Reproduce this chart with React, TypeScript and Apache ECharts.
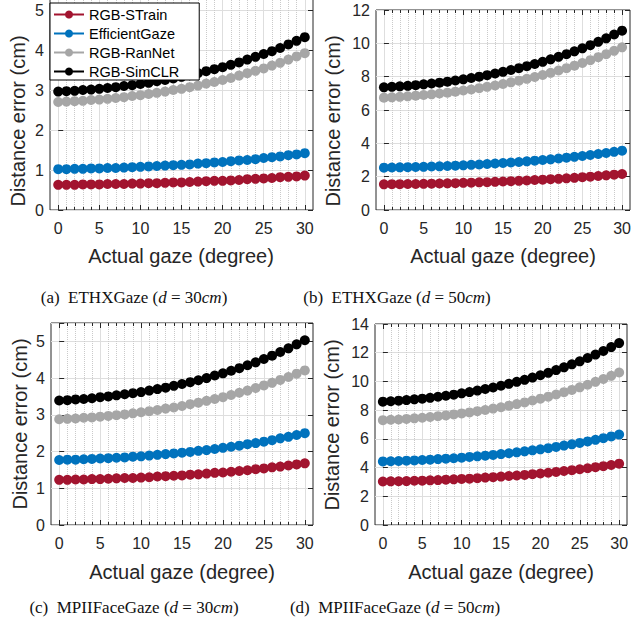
import React, { useEffect, useRef } from "react";
import * as echarts from "echarts";

// ---------- data ----------
const GAZE_DEG = [0, 1, 2, 3, 4, 5, 6, 7, 8, 9, 10, 11, 12, 13, 14, 15, 16, 17, 18, 19, 20, 21, 22, 23, 24, 25, 26, 27, 28, 29, 30];
const SERIES_NAMES = ["RGB-STrain", "EfficientGaze", "RGB-RanNet", "RGB-SimCLR"];
const SERIES_COLORS = ["#A2142F", "#0072BD", "#A6A6A6", "#000000"];

// (a) ETHXGaze d = 30cm
const ETH30_STRAIN = [0.63, 0.63, 0.63, 0.64, 0.64, 0.64, 0.65, 0.65, 0.65, 0.66, 0.66, 0.67, 0.67, 0.68, 0.69, 0.69, 0.70, 0.71, 0.72, 0.73, 0.73, 0.74, 0.75, 0.77, 0.78, 0.79, 0.80, 0.82, 0.83, 0.84, 0.86];
const ETH30_EFFICIENT = [1.02, 1.02, 1.03, 1.03, 1.04, 1.04, 1.05, 1.05, 1.06, 1.07, 1.08, 1.09, 1.10, 1.11, 1.12, 1.13, 1.14, 1.16, 1.17, 1.19, 1.20, 1.22, 1.24, 1.25, 1.27, 1.30, 1.32, 1.34, 1.37, 1.39, 1.42];
const ETH30_RANNET = [2.70, 2.71, 2.72, 2.73, 2.75, 2.76, 2.78, 2.80, 2.82, 2.85, 2.87, 2.90, 2.93, 2.96, 3.00, 3.03, 3.07, 3.11, 3.16, 3.20, 3.25, 3.30, 3.36, 3.42, 3.48, 3.54, 3.61, 3.68, 3.76, 3.84, 3.92];
const ETH30_SIMCLR = [2.96, 2.97, 2.98, 3.00, 3.01, 3.03, 3.05, 3.07, 3.10, 3.12, 3.15, 3.18, 3.22, 3.25, 3.29, 3.33, 3.37, 3.42, 3.47, 3.52, 3.57, 3.63, 3.69, 3.76, 3.83, 3.90, 3.97, 4.05, 4.14, 4.23, 4.32];

// (b) ETHXGaze d = 50cm
const ETH50_STRAIN = [1.54, 1.55, 1.55, 1.56, 1.56, 1.57, 1.58, 1.59, 1.60, 1.61, 1.63, 1.64, 1.66, 1.67, 1.69, 1.71, 1.73, 1.75, 1.77, 1.80, 1.82, 1.85, 1.87, 1.90, 1.93, 1.97, 2.00, 2.04, 2.08, 2.12, 2.16];
const ETH50_EFFICIENT = [2.54, 2.55, 2.56, 2.57, 2.58, 2.59, 2.61, 2.62, 2.64, 2.66, 2.68, 2.71, 2.73, 2.76, 2.79, 2.82, 2.85, 2.88, 2.92, 2.96, 3.00, 3.04, 3.09, 3.14, 3.19, 3.24, 3.30, 3.36, 3.42, 3.49, 3.56];
const ETH50_RANNET = [6.74, 6.76, 6.79, 6.82, 6.86, 6.90, 6.94, 6.99, 7.04, 7.10, 7.17, 7.23, 7.31, 7.39, 7.47, 7.56, 7.66, 7.76, 7.87, 7.98, 8.10, 8.23, 8.37, 8.51, 8.66, 8.82, 8.99, 9.17, 9.35, 9.55, 9.76];
const ETH50_SIMCLR = [7.36, 7.39, 7.42, 7.45, 7.49, 7.54, 7.59, 7.64, 7.70, 7.77, 7.84, 7.92, 8.00, 8.09, 8.19, 8.29, 8.40, 8.51, 8.63, 8.76, 8.89, 9.04, 9.19, 9.35, 9.52, 9.70, 9.89, 10.09, 10.30, 10.53, 10.76];

// (c) MPIIFaceGaze d = 30cm
const MPII30_STRAIN = [1.23, 1.23, 1.24, 1.24, 1.25, 1.25, 1.26, 1.27, 1.28, 1.28, 1.29, 1.30, 1.32, 1.33, 1.34, 1.35, 1.37, 1.38, 1.40, 1.42, 1.43, 1.45, 1.47, 1.49, 1.52, 1.54, 1.57, 1.59, 1.62, 1.65, 1.68];
const MPII30_EFFICIENT = [1.77, 1.78, 1.78, 1.79, 1.80, 1.81, 1.82, 1.83, 1.84, 1.86, 1.87, 1.89, 1.91, 1.93, 1.95, 1.97, 1.99, 2.02, 2.04, 2.07, 2.10, 2.13, 2.16, 2.20, 2.23, 2.27, 2.31, 2.36, 2.40, 2.45, 2.50];
const MPII30_RANNET = [2.88, 2.89, 2.90, 2.92, 2.93, 2.95, 2.97, 2.99, 3.01, 3.04, 3.07, 3.10, 3.13, 3.17, 3.20, 3.24, 3.29, 3.33, 3.38, 3.43, 3.48, 3.54, 3.60, 3.66, 3.73, 3.80, 3.87, 3.95, 4.03, 4.12, 4.21];
const MPII30_SIMCLR = [3.39, 3.40, 3.42, 3.43, 3.45, 3.48, 3.50, 3.53, 3.56, 3.59, 3.62, 3.66, 3.70, 3.74, 3.79, 3.84, 3.89, 3.94, 4.00, 4.07, 4.13, 4.20, 4.27, 4.35, 4.43, 4.52, 4.61, 4.71, 4.81, 4.92, 5.03];

// (d) MPIIFaceGaze d = 50cm
const MPII50_STRAIN = [3.03, 3.04, 3.05, 3.06, 3.08, 3.09, 3.11, 3.13, 3.16, 3.18, 3.21, 3.23, 3.26, 3.30, 3.33, 3.37, 3.41, 3.45, 3.49, 3.54, 3.59, 3.64, 3.70, 3.76, 3.82, 3.88, 3.95, 4.03, 4.10, 4.18, 4.27];
const MPII50_EFFICIENT = [4.43, 4.44, 4.46, 4.48, 4.50, 4.53, 4.55, 4.59, 4.62, 4.65, 4.69, 4.74, 4.78, 4.83, 4.88, 4.94, 5.00, 5.06, 5.13, 5.20, 5.27, 5.35, 5.44, 5.53, 5.62, 5.72, 5.82, 5.93, 6.05, 6.17, 6.30];
const MPII50_RANNET = [7.30, 7.33, 7.35, 7.39, 7.43, 7.47, 7.52, 7.58, 7.63, 7.70, 7.77, 7.84, 7.93, 8.01, 8.11, 8.20, 8.31, 8.42, 8.54, 8.67, 8.80, 8.94, 9.09, 9.25, 9.41, 9.59, 9.77, 9.97, 10.17, 10.39, 10.62];
const MPII50_SIMCLR = [8.59, 8.62, 8.66, 8.70, 8.75, 8.80, 8.86, 8.93, 9.00, 9.08, 9.17, 9.26, 9.36, 9.47, 9.58, 9.70, 9.83, 9.97, 10.11, 10.27, 10.43, 10.60, 10.79, 10.98, 11.19, 11.40, 11.63, 11.87, 12.12, 12.39, 12.67];

const PANEL_DATA = [
  [ETH30_STRAIN, ETH30_EFFICIENT, ETH30_RANNET, ETH30_SIMCLR],
  [ETH50_STRAIN, ETH50_EFFICIENT, ETH50_RANNET, ETH50_SIMCLR],
  [MPII30_STRAIN, MPII30_EFFICIENT, MPII30_RANNET, MPII30_SIMCLR],
  [MPII50_STRAIN, MPII50_EFFICIENT, MPII50_RANNET, MPII50_SIMCLR],
];

const X_TICK_MIN = 0;
const X_TICK_MAX = 30;
const X_TICK_STEP = 5;
const Y_MAX = [5.3, 12, 5.5, 14];
const Y_TICK_STEP = [1, 2, 1, 2];

const CAPTION_TAGS = ["(a)", "(b)", "(c)", "(d)"];
const CAPTION_SETS = ["ETHXGaze", "ETHXGaze", "MPIIFaceGaze", "MPIIFaceGaze"];
const CAPTION_DIST = ["30", "50", "30", "50"];
const X_TITLE = "Actual gaze (degree)";
const Y_TITLE = "Distance error (cm)";

// ---------- layout ----------
const FRAMES = [
  { left: 50, top: -2, width: 263, height: 212 },
  { left: 376, top: 10, width: 254, height: 200 },
  { left: 51, top: 323, width: 262, height: 202 },
  { left: 375, top: 324, width: 252, height: 201 },
];
const Y_TITLE_POS = [[18, 121], [333, 121], [20, 424], [332, 425]];
const X_TITLE_POS = [[181, 256], [503, 256], [182, 572], [501, 572]];
const CAPTION_POS = [[134, 297], [397, 297], [134, 607], [395, 607]];

const AX = "#262626";
const SANS = "Liberation Sans";
const SERIF = "Liberation Serif";

function buildOption() {
  const grid: any[] = [];
  const xAxis: any[] = [];
  const yAxis: any[] = [];
  const series: any[] = [];
  const graphic: any[] = [];

  FRAMES.forEach((f, k) => {
    const unit = f.width / 32;
    const gFrame = grid.length;
    grid.push({
      left: f.left, top: f.top, width: f.width, height: f.height,
      show: true, borderColor: AX, borderWidth: 1, backgroundColor: "#ffffff",
      containLabel: false, outerBoundsMode: "none",
    });
    const gData = grid.length;
    grid.push({
      left: f.left + unit, top: f.top, width: unit * 30, height: f.height,
      show: false, containLabel: false, outerBoundsMode: "none",
    });

    xAxis.push({ gridIndex: gFrame, type: "value", min: -1, max: 31, show: false });
    const xi = xAxis.length;
    xAxis.push({
      gridIndex: gData, type: "value", position: "bottom",
      min: X_TICK_MIN, max: X_TICK_MAX, interval: X_TICK_STEP,
      axisLine: { show: false },
      axisTick: { show: true, inside: true, length: 5, lineStyle: { color: AX } },
      minorTick: { show: true, splitNumber: 5, length: 3, lineStyle: { color: AX } },
      axisLabel: { show: true, margin: 10, fontSize: 16, color: AX, fontFamily: SANS },
      splitLine: { show: true, lineStyle: { color: "#DEDEDE", width: 1 } },
      minorSplitLine: { show: true, lineStyle: { color: "#CACACA", type: "dotted", width: 1 } },
    });
    if (k !== 0) {
      xAxis.push({
        gridIndex: gData, type: "value", position: "top",
        min: X_TICK_MIN, max: X_TICK_MAX, interval: X_TICK_STEP,
        axisLine: { show: false },
        axisTick: { show: true, inside: true, length: 5, lineStyle: { color: AX } },
        minorTick: { show: true, splitNumber: 5, length: 3, lineStyle: { color: AX } },
        axisLabel: { show: false },
        splitLine: { show: false },
      });
    }

    const step = Y_TICK_STEP[k];
    yAxis.push({
      gridIndex: gFrame, type: "value", position: "left",
      min: 0, max: Y_MAX[k], interval: step,
      axisLine: { show: false },
      axisTick: { show: true, inside: true, length: 5, lineStyle: { color: AX } },
      axisLabel: {
        show: true, margin: 6, fontSize: 16, color: AX, fontFamily: SANS,
        formatter: (v: number) => (Math.abs(v / step - Math.round(v / step)) < 1e-6 ? String(v) : ""),
      },
      splitLine: { show: true, lineStyle: { color: "#DEDEDE", width: 1 } },
    });
    yAxis.push({
      gridIndex: gFrame, type: "value", position: "right",
      min: 0, max: Y_MAX[k], interval: step,
      axisLine: { show: false },
      axisTick: { show: true, inside: true, length: 5, lineStyle: { color: AX } },
      axisLabel: { show: false },
      splitLine: { show: false },
    });
    const yi = yAxis.length;
    yAxis.push({ gridIndex: gData, type: "value", min: 0, max: Y_MAX[k], show: false });

    PANEL_DATA[k].forEach((vals, s) => {
      series.push({
        type: "line",
        name: SERIES_NAMES[s],
        xAxisIndex: xi,
        yAxisIndex: yi,
        data: GAZE_DEG.map((x, i) => [x, vals[i]]),
        symbol: "circle",
        symbolSize: 10,
        showSymbol: true,
        lineStyle: { color: SERIES_COLORS[s], width: 1.2 },
        itemStyle: { color: SERIES_COLORS[s] },
        emphasis: { disabled: true },
        z: 3 + s,
      });
    });

    graphic.push({
      type: "text", x: Y_TITLE_POS[k][0], y: Y_TITLE_POS[k][1], rotation: Math.PI / 2,
      style: { text: Y_TITLE, fontSize: 20, fontFamily: SANS, fill: AX, align: "center", verticalAlign: "middle" },
    });
    graphic.push({
      type: "text", x: X_TITLE_POS[k][0], y: X_TITLE_POS[k][1],
      style: { text: X_TITLE, fontSize: 20, fontFamily: SANS, fill: AX, align: "center", verticalAlign: "middle" },
    });
    graphic.push({
      type: "text", x: CAPTION_POS[k][0], y: CAPTION_POS[k][1],
      style: {
        text: `{n|${CAPTION_TAGS[k]}  ${CAPTION_SETS[k]} (}{i|d}{n| = ${CAPTION_DIST[k]}}{i|cm}{n|)}`,
        align: "center", verticalAlign: "middle",
        rich: {
          n: { fontFamily: SERIF, fontSize: 17, fill: "#111111" },
          i: { fontFamily: SERIF, fontSize: 17, fontStyle: "italic", fill: "#111111" },
        },
      },
    });
  });

  return {
    animation: false,
    backgroundColor: "#ffffff",
    textStyle: { fontFamily: SANS },
    grid,
    xAxis,
    yAxis,
    series,
    graphic,
    legend: {
      data: SERIES_NAMES,
      orient: "vertical",
      left: 50,
      top: 3,
      itemWidth: 30,
      itemHeight: 10,
      itemGap: 4,
      padding: [4, 20, 1, 3],
      backgroundColor: "#ffffff",
      borderColor: "#000000",
      borderWidth: 1,
      borderRadius: 0,
      selectedMode: false,
      textStyle: { fontSize: 14.5, color: "#000000", fontFamily: SANS },
      z: 10,
    },
  };
}

export default function App() {
  const ref = useRef<HTMLDivElement>(null);
  useEffect(() => {
    const chart = echarts.init(ref.current!, undefined, { renderer: "svg" });
    chart.setOption(buildOption() as any);
    return () => chart.dispose();
  }, []);
  return (
    <div
      ref={ref}
      style={{ position: "fixed", left: 0, top: 0, width: 631, height: 625, background: "#ffffff" }}
    />
  );
}
